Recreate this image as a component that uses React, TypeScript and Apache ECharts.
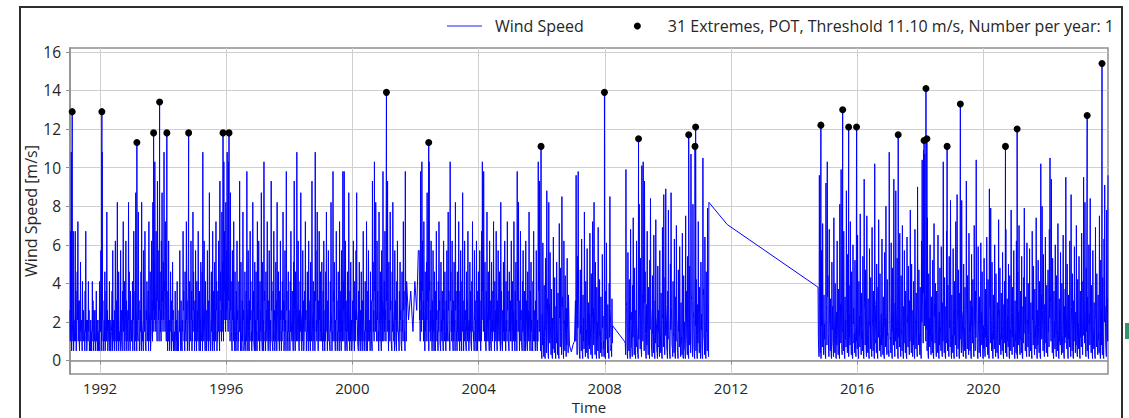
import React, { useEffect, useRef } from "react";
import * as echarts from "echarts";

// ---------- DATA ----------
const SERIES_NAME = "Wind Speed";
const EXTREME_NAME = "31 Extremes, POT, Threshold 11.10 m/s, Number per year: 1";

// Segment 1: 1991.05 – 2001.72 (values in knot steps). "W" = upper swings, "B" = lower swings
const SEG1_RANGE = [1991.05, 2001.72];
const W1991 = [2.6,6.7,10.8,4.1,1.5,6.7,2.1,1,6.7,3.6,1.5,4.6,7.2,2.6,1,3.1,5.1,1.5,2.1,4.1,1,2.6,1.5,3.6,6.7,2.1,1,1.5,4.1,2.6,1,0.5,2.1,1.5,4.1,3.1,1,1.5,2.6,1,3.6,2.1,1,0.5,1.5,4.1];
const B1991 = [1,1.5,0.5,2.1,1,0.5,1.5,2.6,1,0.5,1.5,2.1,1,3.1,0.5,1.5,1,2.1,0.5,1.5,2.6,1,0.5,1.5,1,0.5,2.1,1,1.5,0.5,1,2.1,0.5,1,1.5,0.5,2.6,1,0.5,1.5,1,0.5,2.1,1,0.5,1.5];
const W1992 = [2.6,5.7,1.5,10.8,3.1,1,2.1,4.6,1.5,3.6,7.7,2.6,1,1.5,4.1,2.1,0.5,1.5,3.6,5.7,2.1,1,2.6,6.2,1.5,3.1,8.2,2.1,4.6,1,1.5,5.7,2.6,1,3.6,7.2,2.1,4.1,1.5,6.2,3.1,1,2.6,8.2,4.6,1.5,3.6,2.1];
const B1992 = [1.5,0.5,1,2.1,0.5,1.5,1,0.5,2.6,1,1.5,0.5,2.1,1,0.5,1.5,1,2.1,0.5,1,1.5,0.5,1,2.6,0.5,1.5,1,0.5,2.1,1,0.5,1.5,1,0.5,2.1,1.5,0.5,1,2.6,0.5,1.5,1,0.5,2.1,1,0.5,1.5,1];
const W1993 = [1.5,4.1,2.6,6.7,1,3.6,8.7,2.1,5.1,1.5,7.7,3.1,1,2.6,4.6,8.2,2.1,1.5,5.7,3.1,6.7,1,2.6,4.1,1.5,3.6,7.2,2.1,4.6,1,6.2,3.1,8.2,2.6,5.1,10.3,4.1,6.7,2.1,9.3,5.7,3.1,7.7,4.6,2.6,6.2,8.7,3.6];
const B1993 = [1,0.5,2.1,1.5,0.5,1,2.6,0.5,1.5,1,2.1,0.5,1,1.5,0.5,2.1,1,0.5,3.1,1.5,1,0.5,2.1,1,1.5,0.5,2.6,1,0.5,1.5,2.1,1,3.6,1.5,2.1,4.1,1.5,2.6,1,3.1,2.1,1,2.6,1.5,1,2.1,3.1,1.5];
const W1994 = [5.1,10.8,4.1,7.2,2.6,5.7,1.5,3.6,6.2,2.1,1,4.6,3.1,1.5,5.1,2.6,0.5,1.5,3.6,1,2.1,4.1,1.5,0.5,2.6,5.7,1.5,3.1,1,2.1,6.7,3.6,1.5,4.6,2.1,7.2,3.1,1,5.7,2.6,4.1,1.5,6.2,3.6,2.1,7.7,4.6,2.6];
const B1994 = [2.1,3.6,1.5,2.6,1,2.1,0.5,1,1.5,0.5,1,1.5,0.5,1,2.1,0.5,1,0.5,1.5,0.5,1,0.5,1,0.5,1.5,2.1,0.5,1,0.5,1.5,2.6,1,0.5,1.5,1,2.1,0.5,1,2.6,0.5,1.5,1,2.1,0.5,1,2.6,1.5,0.5];
const W1995 = [3.1,5.7,1.5,4.1,2.6,6.7,1,3.6,2.1,5.1,1.5,4.6,10.8,3.1,6.2,2.1,4.1,1,2.6,5.7,1.5,3.1,8.7,2.6,1,4.6,2.1,6.7,3.6,1.5,5.1,2.6,7.2,4.1,1.5,3.6,6.2,2.1,9.3,4.6,2.6,7.7,5.1,3.1,10.3,6.7,4.1,8.2];
const B1995 = [1,2.1,0.5,1.5,1,2.6,0.5,1,0.5,1.5,1,0.5,3.1,1,2.1,0.5,1.5,0.5,1,2.1,0.5,1,2.6,0.5,1,1.5,0.5,2.1,1,0.5,1.5,1,2.6,0.5,1,1.5,2.1,0.5,3.1,1.5,1,2.6,1.5,1,3.6,2.1,1.5,2.6];
const W1996 = [5.7,10.8,3.6,10.3,6.2,2.6,8.7,4.1,1.5,5.7,3.1,7.2,2.1,4.6,1,3.6,6.2,2.6,1.5,4.1,9.3,2.1,5.1,1,3.1,7.7,2.6,0.5,4.6,1.5,3.6,9.8,2.1,5.7,1,3.1,6.7,4.1,1.5,2.6,8.2,3.6,1,5.1,2.1,4.6,1.5,7.2];
const B1996 = [2.1,3.6,1.5,3.1,2.1,1,2.6,1.5,0.5,2.1,1,2.6,0.5,1.5,0.5,1,2.1,0.5,1,1.5,2.6,0.5,1.5,0.5,1,2.1,0.5,1,1.5,0.5,1,3.1,0.5,1.5,0.5,1,2.1,1,0.5,1,2.6,1,0.5,1.5,0.5,1,0.5,2.1];
const W1997 = [3.1,6.2,1.5,4.1,2.6,8.7,1,5.1,2.1,10.3,3.6,1.5,4.6,2.6,7.2,1,3.1,5.7,1.5,2.1,9.3,4.1,1,3.6,6.7,2.6,1.5,5.1,3.1,8.2,2.1,4.6,1,3.6,6.2,2.6,1.5,4.1,7.7,3.1,1,5.7,2.1,9.8,3.6,1.5,4.6,2.6];
const B1997 = [1,2.1,0.5,1.5,1,2.6,0.5,1.5,0.5,3.1,1,0.5,1.5,1,2.1,0.5,1,1.5,0.5,1,2.6,1,0.5,1,2.1,0.5,1,1.5,0.5,2.6,1,1.5,0.5,1,2.1,0.5,1,1.5,2.1,0.5,1,1.5,0.5,2.6,1,0.5,1.5,1];
const W1998 = [1.5,4.1,6.7,2.1,3.6,1,5.1,9.3,2.6,4.6,1.5,10.8,3.1,6.2,1,2.6,4.1,8.7,2.1,1.5,5.7,3.1,1,3.6,7.2,2.6,1.5,4.6,2.1,6.2,1,3.1,5.1,1.5,9.3,2.6,4.1,1,3.6,10.8,5.7,2.1,7.7,1.5,3.1,6.7,2.6,4.6];
const B1998 = [0.5,1.5,2.1,1,1.5,0.5,1,2.6,0.5,1.5,1,3.1,1,2.1,0.5,1,1.5,2.6,0.5,1,1.5,0.5,1,1.5,2.1,0.5,1,1.5,0.5,2.1,1,0.5,1.5,1,2.6,0.5,1.5,1,0.5,3.1,1.5,1,2.1,0.5,1,2.1,1,1.5];
const W1999 = [2.1,5.1,1.5,3.6,6.2,1,2.6,4.6,7.7,1.5,3.1,5.7,2.1,1,4.1,8.2,2.6,1.5,9.8,3.6,5.1,1,2.1,6.7,3.1,1.5,4.6,2.6,7.2,1,3.6,5.7,2.1,9.8,4.1,9.8,1.5,6.2,3.1,1,4.6,2.6,8.7,1.5,3.6,5.1,2.1,1];
const B1999 = [1,1.5,0.5,1,2.1,0.5,1,1.5,2.6,0.5,1,2.1,1,0.5,1.5,2.6,0.5,1,3.1,1,1.5,0.5,1,2.1,0.5,1,1.5,0.5,2.1,1,0.5,1.5,1,2.6,1,3.1,0.5,1.5,1,0.5,1.5,1,2.6,0.5,1,1.5,0.5,1];
const W2000 = [3.1,6.2,1.5,4.1,2.6,5.7,8.7,2.1,1,3.6,5.1,1.5,2.6,4.6,1,3.1,6.7,2.1,1.5,4.1,2.6,7.2,1,3.6,5.7,1.5,2.1,4.6,3.1,1,9.3,5.1,2.6,10.3,4.1,8.2,2.1,6.2,3.6,1.5,7.7,2.6,4.6,1,5.7,3.1,9.8,2.1];
const B2000 = [1,2.1,0.5,1.5,1,2.1,2.6,1,0.5,1,1.5,0.5,1,1.5,0.5,1,2.1,0.5,1,1.5,0.5,2.6,0.5,1,1.5,1,0.5,1.5,1,0.5,3.1,1.5,1,3.6,1.5,2.6,1,2.1,1,0.5,2.6,1,1.5,0.5,2.1,1,3.1,1];
const W2001 = [4.1,6.7,2.6,9.8,3.6,9.3,1.5,5.1,2.1,7.7,3.1,1,4.6,8.2,2.6,1.5,5.7,3.1,1,4.1,6.2,2.1,1.5,3.6,5.1,2.6,1,4.6,2.1,7.2,3.6,1.5,9.8,2.6,4.1];
const B2001 = [1.5,2.1,1,3.1,1.5,2.6,0.5,1.5,1,2.6,1,0.5,1.5,2.6,1,0.5,2.1,1,0.5,1.5,2.1,1,0.5,1.5,2.1,1,0.5,1.5,1,2.6,1,0.5,3.1,1];

// sparse stretch late 2001
const GAP_A: [number, number][] = [[2001.78,2.1],[2001.85,3.6],[2001.92,1.5],[2001.98,4.1],[2002.04,2.6],[2002.09,5.7]];

// Segment 2: 2002.12 – 2006.85
const SEG2_RANGE = [2002.12, 2006.85];
const W2002 = [5.7,2.6,9.8,4.1,10.3,6.2,3.1,7.2,1.5,4.6,2.1,5.1,8.7,3.6,1,10.3,4.1,2.6,6.2,1.5,3.1,5.7,2.1,4.6,1,3.6,6.7,2.6,1.5,4.1,7.2,3.1,1,5.1,2.1,3.6,1.5,6.2,2.6,4.6,1,3.1,5.7];
const B2002 = [2.1,1,3.1,1.5,3.6,2.1,1,2.6,0.5,1.5,1,2.1,3.1,1,0.5,3.6,1.5,1,2.1,0.5,1,1.5,0.5,1.5,0.5,1,2.1,1,0.5,1.5,2.6,1,0.5,1.5,1,1.5,0.5,2.1,1,1.5,0.5,1,2.1];
const W2003 = [2.1,7.7,3.6,1.5,10.3,4.6,2.6,6.2,1,3.1,5.1,2.1,8.2,3.6,1.5,4.6,2.6,7.2,1,3.6,5.7,2.1,4.1,8.7,1.5,3.1,6.2,2.6,1,4.6,3.1,6.7,1.5,2.1,5.1,3.6,1,4.1,7.2,2.6,1.5,5.7,3.1,2.1,6.2,1,3.6,4.6];
const B2003 = [1,2.6,1,0.5,3.1,1.5,1,2.1,0.5,1,1.5,0.5,2.6,1,0.5,1.5,1,2.1,0.5,1,2.1,0.5,1.5,2.6,0.5,1,2.1,1,0.5,1.5,1,2.1,0.5,1,1.5,1,0.5,1.5,2.6,1,0.5,2.1,1,0.5,2.1,0.5,1,1.5];
const W2004 = [2.6,5.7,1.5,3.1,6.7,10.3,4.1,9.8,2.1,5.1,1,3.6,7.7,2.6,4.6,1.5,6.2,3.1,1,5.1,2.1,3.6,7.2,1.5,4.1,2.6,6.7,1,3.1,5.7,2.1,4.6,1.5,8.2,3.6,1,2.6,5.1,3.1,6.2,1.5,4.1,2.1,7.2,3.6,1,4.6,2.6];
const B2004 = [1,2.1,0.5,1,2.1,3.6,1.5,3.1,1,1.5,0.5,1,2.6,1,1.5,0.5,2.1,1,0.5,1.5,1,1.5,2.6,0.5,1.5,1,2.1,0.5,1,2.1,1,1.5,0.5,2.6,1,0.5,1,1.5,1,2.1,0.5,1.5,1,2.6,1,0.5,1.5,1];
const W2005 = [3.1,6.2,1.5,4.1,2.6,7.2,1,3.6,5.1,2.1,9.8,4.6,8.2,1.5,3.1,6.7,2.6,1,4.1,5.7,2.1,3.6,1.5,6.2,3.1,1,4.6,2.6,7.7,1.5,3.6,5.1,2.1,1,4.1,6.7,2.6,1.5,3.1,5.7,1,2.1,10.3,4.6,9.3,1.5,3.6,0.3];
const B2005 = [1,2.1,0.5,1.5,1,2.6,0.5,1,1.5,0.5,3.1,1.5,2.6,0.5,1,2.1,1,0.5,1.5,2.1,0.5,1,0.5,2.1,1,0.5,1.5,1,2.6,0.5,1,1.5,0.5,0.5,1,2.1,1,0.5,1,2.1,0.5,1,3.6,1.5,3.1,0.5,1,0.1];
const W2006 = [2.4,6.1,0.8,3.9,0.2,5.3,1.7,8.8,3.2,0.4,8.2,2.9,5.6,1.1,3.7,0.3,2.2,6.4,1.5,4.3,0.6,2.8,5.1,1.3,3.5,0.2,7.1,2.5,4.8,1.2,8.5,3.3,0.5,6.2,2.1,4.4,0.9,2.7,5.3,1.6,3.4];
const B2006 = [0.8,1.9,0.2,1.2,0.1,1.6,0.4,2.7,1.0,0.1,2.4,0.9,1.8,0.3,1.1,0.1,0.6,2.0,0.4,1.3,0.1,0.9,1.6,0.3,1.0,0.1,2.2,0.7,1.5,0.3,2.8,1.0,0.1,1.9,0.5,1.4,0.2,0.8,1.7,0.4];

const GAP_B: [number, number][] = [[2006.88,0.8],[2006.94,0.45],[2007.0,0.85],[2007.04,1.0]];

// Segment 3: 2007.07 – 2008.25
const SEG3_RANGE = [2007.07, 2008.25];
const W2007 = [3.1,9.6,1.2,5.4,9.8,2.6,0.3,4.7,1.8,6.3,0.5,3.4,2.2,7.7,0.9,4.1,1.6,5.8,0.2,3.0,2.4,6.6,1.1,4.5,0.4,7.2,2.7,8.2,1.3,5.1,0.6,3.8,2.0,6.9,0.3,4.2,1.5,3.3,0.7,5.5,2.3,1.0,4.6,0.2,3.6,6.1,1.4,2.9,0.5,4.0,8.5,1.9,0.8,3.2,1.8];
const B2007 = [1.0,3.2,0.3,1.7,3.4,0.7,0.1,1.4,0.5,2.0,0.1,1.0,0.6,2.5,0.2,1.3,0.4,1.9,0.1,0.8,0.6,2.1,0.3,1.4,0.1,2.3,0.8,2.6,0.3,1.6,0.1,1.1,0.5,2.2,0.1,1.3,0.4,1.0,0.2,1.7,0.6,0.2,1.4,0.1,1.1,1.9,0.4,0.8,0.1,1.2,2.7,0.5,0.2,0.9];

const GAP_C: [number, number][] = [[2008.62,1.0]];

// Segment 4: 2008.65 – 2011.30
const SEG4_RANGE = [2008.65, 2011.3];
const W2008 = [0.9,9.9,2.8,0.3,5.6,1.7,4.2,0.2,6.8,2.5,0.6,3.9,7.4,1.2,4.8,0.4,2.6];
const B2008 = [0.3,3.1,0.8,0.1,1.8,0.5,1.3,0.1,2.1,0.7,0.2,1.2,2.4,0.3,1.5,0.1,0.7];
const W2009 = [6.2,1.4,0.3,3.7,8.1,2.2,5.3,0.6,10.1,3.4,10.3,1.8,9.3,4.6,0.2,2.9,6.7,1.1,3.8,0.5,5.2,8.4,2.3,0.7,4.4,1.6,6.5,0.3,3.1,7.3,1.9,0.4,4.9,2.6,0.8,5.7,1.3,3.5,0.2,6.9,2.4,8.6,1.0,4.3,8.9,2.1,0.5,3.6];
const B2009 = [1.9,0.4,0.1,1.1,2.6,0.6,1.6,0.2,3.3,1.0,3.4,0.5,3.0,1.4,0.1,0.8,2.1,0.3,1.2,0.1,1.6,2.7,0.7,0.2,1.4,0.4,2.0,0.1,0.9,2.3,0.5,0.1,1.5,0.7,0.2,1.8,0.4,1.1,0.1,2.2,0.7,2.8,0.3,1.3,2.9,0.6,0.1,1.1];
const W2010 = [7.8,1.7,0.3,5.0,8.7,2.8,0.6,4.1,1.4,6.3,0.2,3.3,7.0,1.9,0.4,4.7,2.5,5.9,0.8,3.0,1.2,6.6,0.3,4.4,2.0,0.5,7.5,3.6,1.1,5.4,0.2,2.7,4.9,1.5,10.7,3.1,0.6,8.1,2.2,0.4,6.0,1.8,4.2,0.3,2.9,7.2,1.3,3.8];
const B2010 = [2.5,0.5,0.1,1.6,2.8,0.8,0.2,1.3,0.4,2.0,0.1,1.0,2.2,0.5,0.1,1.5,0.7,1.9,0.2,0.9,0.3,2.1,0.1,1.4,0.6,0.1,2.4,1.1,0.3,1.7,0.1,0.8,1.6,0.4,3.5,1.0,0.2,2.6,0.7,0.1,1.9,0.5,1.3,0.1,0.9,2.3,0.4,1.2];
const W2011 = [0.5,5.1,2.4,0.2,10.5,3.7,1.0,6.4,0.3,4.6,1.6,7.9,0.6,8.2];
const B2011 = [0.1,1.6,0.7,0.1,3.4,1.2,0.3,2.0,0.1,1.5,0.5,2.5,0.2];

const GAP_D: [number, number][] = [[2011.88,7.05]];

// Segment 5: 2014.76 – 2023.95
const SEG5_RANGE = [2014.76, 2023.95];
const W2014 = [3.8,0.6,9.6,1.2,0.4,5.7,2.3,7.1,0.8,3.4,1.9];
const B2014 = [1.2,0.2,3.0,0.4,0.1,1.8,0.7,2.3,0.3,1.1,0.6];
const W2015 = [0.3,9.2,2.6,10.3,4.4,0.5,6.8,1.7,3.2,0.2,5.1,2.8,0.7,7.4,1.4,4.0,0.3,2.5,6.2,1.1,3.7,0.4,8.1,2.9,9.9,0.9,4.8,1.6,6.7,0.3,3.3,2.1,8.8,1.2,5.5,0.5,3.9,2.4,7.2,1.0,4.6,0.2,6.0,2.7,1.4,5.2,0.6,3.1];
const B2015 = [0.1,2.9,0.8,3.3,1.4,0.2,2.1,0.5,1.0,0.1,1.6,0.9,0.2,2.4,0.4,1.3,0.1,0.8,2.0,0.3,1.2,0.1,2.6,0.9,3.1,0.3,1.5,0.5,2.1,0.1,1.1,0.7,2.8,0.4,1.8,0.2,1.2,0.8,2.3,0.3,1.5,0.1,1.9,0.9,0.4,1.7,0.2,1.0];
const W2016 = [1.8,6.5,0.4,4.1,2.3,7.6,0.8,3.5,1.5,5.4,0.2,9.4,2.6,4.7,0.5,7.5,1.3,3.2,0.3,5.8,2.0,4.3,0.6,6.9,1.7,3.6,0.2,10.2,2.9,1.1,5.0,0.4,3.8,7.3,1.6,4.5,0.7,2.4,6.3,1.0,3.3,0.3,5.6,2.2,8.0,0.9,4.2,1.4];
const B2016 = [0.6,2.1,0.1,1.3,0.7,2.4,0.3,1.1,0.5,1.7,0.1,3.0,0.8,1.5,0.2,2.4,0.4,1.0,0.1,1.8,0.6,1.4,0.2,2.2,0.5,1.2,0.1,3.2,0.9,0.4,1.6,0.1,1.2,2.3,0.5,1.4,0.2,0.8,2.0,0.3,1.1,0.1,1.8,0.7,2.5,0.3,1.3,0.4];
const W2017 = [0.5,10.8,3.4,1.2,6.1,0.3,4.8,2.5,9.4,0.7,3.0,8.8,1.8,5.3,0.2,3.9,2.1,6.6,0.6,4.4,1.5,7.0,0.4,2.8,5.7,1.1,3.6,0.2,6.4,2.3,4.9,0.8,3.1,7.8,1.3,5.0,0.5,2.6,4.1,0.3,6.8,1.9,3.5,0.6,9.0,2.4,4.7,1.0];
const B2017 = [0.2,3.4,1.1,0.4,1.9,0.1,1.5,0.8,3.0,0.2,1.0,2.8,0.6,1.7,0.1,1.2,0.7,2.1,0.2,1.4,0.5,2.2,0.1,0.9,1.8,0.4,1.1,0.1,2.0,0.7,1.6,0.3,1.0,2.5,0.4,1.6,0.2,0.8,1.3,0.1,2.2,0.6,1.1,0.2,2.9,0.8,1.5,0.3];
const W2018 = [3.8,0.4,6.2,10.4,2.7,10.9,5.6,10.7,3.1,8.9,1.6,7.4,0.3,4.5,2.2,6.0,0.8,3.3,1.4,5.2,0.2,7.1,2.9,4.0,0.6,3.6,1.1,6.5,0.3,2.5,4.8,1.7,5.9,0.5,3.0,10.3,1.2,4.3,0.2,2.8,6.7,1.5,3.9,0.7,5.4,2.1,8.3,0.4];
const B2018 = [1.2,0.1,2.0,3.3,0.9,3.5,1.8,3.4,1.0,2.8,0.5,2.4,0.1,1.4,0.7,1.9,0.3,1.0,0.4,1.7,0.1,2.3,0.9,1.3,0.2,1.1,0.4,2.1,0.1,0.8,1.5,0.5,1.9,0.2,1.0,3.3,0.4,1.4,0.1,0.9,2.1,0.5,1.2,0.2,1.7,0.7,2.6,0.1];
const W2019 = [3.4,1.3,5.8,0.3,4.1,2.6,7.2,0.6,8.6,1.9,4.7,0.2,3.5,6.3,1.1,8.3,2.4,0.5,5.0,1.7,3.8,0.3,9.3,2.0,4.4,0.8,6.6,1.4,3.1,0.2,5.5,2.8,4.2,0.6,7.0,1.6,3.6,10.4,2.3,0.4,5.9,1.2,3.3,0.7,6.1,2.5,4.6,0.3];
const B2019 = [1.1,0.4,1.8,0.1,1.3,0.8,2.3,0.2,2.7,0.6,1.5,0.1,1.1,2.0,0.4,2.6,0.8,0.2,1.6,0.5,1.2,0.1,3.0,0.6,1.4,0.3,2.1,0.5,1.0,0.1,1.8,0.9,1.3,0.2,2.2,0.5,1.2,3.3,0.7,0.1,1.9,0.4,1.1,0.2,1.9,0.8,1.5,0.1];
const W2020 = [1.8,5.3,0.5,3.7,2.1,6.4,1.0,4.2,0.3,8.9,2.7,7.9,1.5,5.1,0.2,3.4,2.0,6.0,0.6,4.5,1.3,3.0,0.4,7.3,2.6,4.8,0.8,3.5,1.7,5.6,0.3,2.9,4.1,1.1,6.8,0.5,3.2,2.3,5.0,0.2,4.4,1.6,7.8,0.9,3.8,2.2,5.7,0.4];
const B2020 = [0.6,1.7,0.2,1.2,0.7,2.0,0.3,1.3,0.1,2.8,0.9,2.5,0.5,1.6,0.1,1.1,0.6,1.9,0.2,1.4,0.4,1.0,0.1,2.3,0.8,1.5,0.3,1.1,0.5,1.8,0.1,0.9,1.3,0.4,2.2,0.2,1.0,0.7,1.6,0.1,1.4,0.5,2.5,0.3,1.2,0.7,1.8,0.1];
const W2021 = [3.1,1.4,6.2,0.3,4.6,2.5,7.0,0.8,3.6,1.2,5.4,0.2,2.8,4.3,7.9,1.7,3.3,0.5,6.1,2.1,4.0,0.7,5.8,1.5,3.0,0.3,6.7,2.4,4.9,0.9,3.7,1.8,7.4,0.4,2.6,5.2,1.1,4.1,0.2,10.2,3.4,8.0,1.6,5.5,0.6,2.9,6.4,1.3];
const B2021 = [1.0,0.4,2.0,0.1,1.5,0.8,2.2,0.3,1.1,0.4,1.7,0.1,0.9,1.4,2.5,0.5,1.1,0.2,1.9,0.7,1.3,0.2,1.8,0.5,1.0,0.1,2.1,0.8,1.6,0.3,1.2,0.6,2.4,0.1,0.8,1.7,0.4,1.3,0.1,3.3,1.1,2.6,0.5,1.8,0.2,0.9,2.0,0.4];
const W2022 = [3.9,0.5,4.7,2.2,6.8,10.5,3.0,9.4,1.4,5.3,0.3,3.6,2.0,6.0,0.7,4.4,1.5,7.1,0.2,3.2,2.6,5.6,0.9,4.0,1.2,6.5,0.4,2.8,3.7,9.5,1.8,5.0,0.3,3.4,2.3,6.2,0.6,8.6,1.7,4.5,0.2,3.1,5.9,1.4,2.5,7.0,0.5,4.2];
const B2022 = [1.3,0.2,1.5,0.7,2.2,3.4,1.0,3.0,0.4,1.7,0.1,1.2,0.6,1.9,0.2,1.4,0.5,2.3,0.1,1.0,0.8,1.8,0.3,1.3,0.4,2.1,0.1,0.9,1.2,3.1,0.6,1.6,0.1,1.1,0.7,2.0,0.2,2.8,0.5,1.4,0.1,1.0,1.9,0.4,0.8,2.3,0.2,1.3];
const W2023 = [1.9,5.4,0.3,3.6,2.2,6.6,1.0,4.1,9.5,2.7,8.2,0.6,4.8,1.5,3.3,0.2,6.0,2.4,8.4,1.2,3.9,0.5,5.7,1.8,3.0,0.3,6.9,2.1,4.5,0.8,3.4,1.4,7.5,0.4,5.2,2.6,1.1,4.3,0.2,6.3,9.1,2.8,0.5,7.8,3.2,9.6];
const B2023 = [0.6,1.7,0.1,1.2,0.7,2.1,0.3,1.3,3.1,0.9,2.6,0.2,1.5,0.5,1.1,0.1,1.9,0.8,2.7,0.4,1.2,0.1,1.8,0.6,1.0,0.1,2.2,0.7,1.4,0.3,1.1,0.4,2.4,0.1,1.7,0.8,0.3,1.4,0.1,2.0,2.9,0.9,0.2,2.5,1.0];

// Extremes (peaks over threshold)
const EXT_TIME = [1991.12,1992.06,1993.17,1993.70,1993.89,1994.12,1994.81,1995.90,1996.09,2001.08,
  2002.42,2005.98,2007.99,2009.07,2010.66,2010.86,2010.88,2014.85,2015.54,2015.73,
  2015.98,2017.30,2018.12,2018.18,2018.21,2018.85,2019.27,2020.70,2021.07,2023.29,2023.76];
const EXT_SPEED = [12.9,12.9,11.3,11.8,13.4,11.8,11.8,11.8,11.8,13.9,
  11.3,11.1,13.9,11.5,11.7,11.1,12.1,12.2,13.0,12.1,
  12.1,11.7,11.4,14.1,11.5,11.1,13.3,11.1,12.0,12.7,15.4];

// Axis ticks
const X_TICKS = [1992, 1996, 2000, 2004, 2008, 2012, 2016, 2020];
const Y_TICKS = [0, 2, 4, 6, 8, 10, 12, 14, 16];
const X_RANGE = [1991.05, 2023.95];
const Y_RANGE = [-0.7, 16.2];

// ---------- BUILD ----------
function interleave(a: number[], b: number[]): number[] {
  const out: number[] = [];
  const n = Math.max(a.length, b.length);
  for (let i = 0; i < n; i++) {
    if (i < a.length) out.push(a[i]);
    if (i < b.length) out.push(b[i]);
  }
  return out;
}

function spread(range: number[], values: number[]): [number, number][] {
  const n = values.length;
  const step = (range[1] - range[0]) / (n - 1);
  return values.map((v, i) => [range[0] + i * step, v]);
}

function buildLine(): [number, number][] {
  const s1 = interleave(
    [...W1991, ...W1992, ...W1993, ...W1994, ...W1995, ...W1996, ...W1997, ...W1998, ...W1999, ...W2000, ...W2001],
    [...B1991, ...B1992, ...B1993, ...B1994, ...B1995, ...B1996, ...B1997, ...B1998, ...B1999, ...B2000, ...B2001]
  );
  const s2 = interleave([...W2002, ...W2003, ...W2004, ...W2005, ...W2006], [...B2002, ...B2003, ...B2004, ...B2005, ...B2006]);
  const s3 = interleave(W2007, B2007);
  const s4 = interleave([...W2008, ...W2009, ...W2010, ...W2011], [...B2008, ...B2009, ...B2010, ...B2011]);
  const s5 = interleave(
    [...W2014, ...W2015, ...W2016, ...W2017, ...W2018, ...W2019, ...W2020, ...W2021, ...W2022, ...W2023],
    [...B2014, ...B2015, ...B2016, ...B2017, ...B2018, ...B2019, ...B2020, ...B2021, ...B2022, ...B2023]
  );
  const pts: [number, number][] = [
    ...spread(SEG1_RANGE, s1),
    ...GAP_A,
    ...spread(SEG2_RANGE, s2),
    ...GAP_B,
    ...spread(SEG3_RANGE, s3),
    ...GAP_C,
    ...spread(SEG4_RANGE, s4),
    ...GAP_D,
    ...spread(SEG5_RANGE, s5),
  ];
  EXT_TIME.forEach((t, i) => pts.push([t, EXT_SPEED[i]]));
  pts.sort((a, b) => a[0] - b[0]);
  return pts;
}

const FONT = "'Open Sans', 'Noto Sans', sans-serif";
const TEXT = "#262626";
const AXIS_GRAY = "#8f8f8f";

export default function App() {
  const ref = useRef<HTMLDivElement>(null);
  useEffect(() => {
    if (!ref.current) return;
    const chart = echarts.init(ref.current, undefined, { renderer: "svg" });
    const lineData = buildLine();
    const extData = EXT_TIME.map((t, i) => [t, EXT_SPEED[i]]);
    chart.setOption({
      animation: false,
      backgroundColor: "#ffffff",
      textStyle: { fontFamily: FONT },
      grid: {
        left: 70, right: 21, top: 48, bottom: 44,
        outerBoundsMode: "none", containLabel: false,
        show: true, borderColor: AXIS_GRAY, borderWidth: 1.5, backgroundColor: "transparent",
      },
      legend: {
        right: 10,
        top: 13,
        itemWidth: 35,
        itemHeight: 7,
        itemGap: 50,
        textStyle: { fontSize: 16, color: TEXT, fontFamily: FONT, padding: [0, 0, 0, 8] },
        data: [
          { name: SERIES_NAME, itemStyle: { opacity: 0 }, lineStyle: { color: "#0000ff", width: 1.3, opacity: 0.6 } },
          { name: EXTREME_NAME, icon: "circle", itemStyle: { color: "#000000", opacity: 1 } },
        ],
      },
      xAxis: {
        type: "value",
        min: X_RANGE[0],
        max: X_RANGE[1],
        name: "Time",
        nameLocation: "middle",
        nameGap: 25,
        nameMoveOverlap: false,
        nameTextStyle: { fontSize: 15, color: TEXT, fontFamily: FONT },
        axisLine: { show: true, lineStyle: { color: AXIS_GRAY, width: 1.5 } },
        axisTick: { show: true, length: 4, customValues: X_TICKS, lineStyle: { color: AXIS_GRAY } },
        axisLabel: { customValues: X_TICKS, fontSize: 15, color: TEXT, margin: 6, formatter: (v: number) => String(Math.round(v)) },
        splitLine: { show: true, lineStyle: { color: "#cfcfcf", width: 1 } },
      },
      yAxis: {
        type: "value",
        min: Y_RANGE[0],
        max: Y_RANGE[1],
        name: "Wind Speed [m/s]",
        nameLocation: "middle",
        nameGap: 31,
        nameMoveOverlap: false,
        nameTextStyle: { fontSize: 16, color: TEXT, fontFamily: FONT },
        axisLine: { show: true, lineStyle: { color: AXIS_GRAY, width: 1.5 } },
        axisTick: { show: true, length: 4, customValues: Y_TICKS, lineStyle: { color: AXIS_GRAY } },
        axisLabel: { customValues: Y_TICKS, fontSize: 15.5, color: TEXT, margin: 9 },
        splitLine: { show: true, lineStyle: { color: "#cfcfcf", width: 1 } },
      },
      graphic: [
        { type: "rect", shape: { x: 20, y: 7, width: 1102, height: 430 }, style: { fill: "none", stroke: "#2e2e2e", lineWidth: 2 }, silent: true, z: 100 },
        { type: "rect", shape: { x: 1125, y: 323, width: 4, height: 16 }, style: { fill: "#3c8f6e" }, silent: true },
      ],
      series: [
        {
          name: SERIES_NAME,
          type: "line",
          data: lineData,
          symbol: "none",
          showSymbol: false,
          color: "#0000ff",
          lineStyle: { color: "#0000ff", width: 1, opacity: 1 },
          z: 2,
        },
        {
          name: EXTREME_NAME,
          type: "scatter",
          data: extData,
          symbol: "circle",
          symbolSize: 7,
          itemStyle: { color: "#000000", opacity: 1 },
          z: 3,
        },
      ],
    });
    return () => chart.dispose();
  }, []);
  return <div ref={ref} style={{ position: "fixed", left: 0, top: 0, width: 1129, height: 418 }} />;
}
